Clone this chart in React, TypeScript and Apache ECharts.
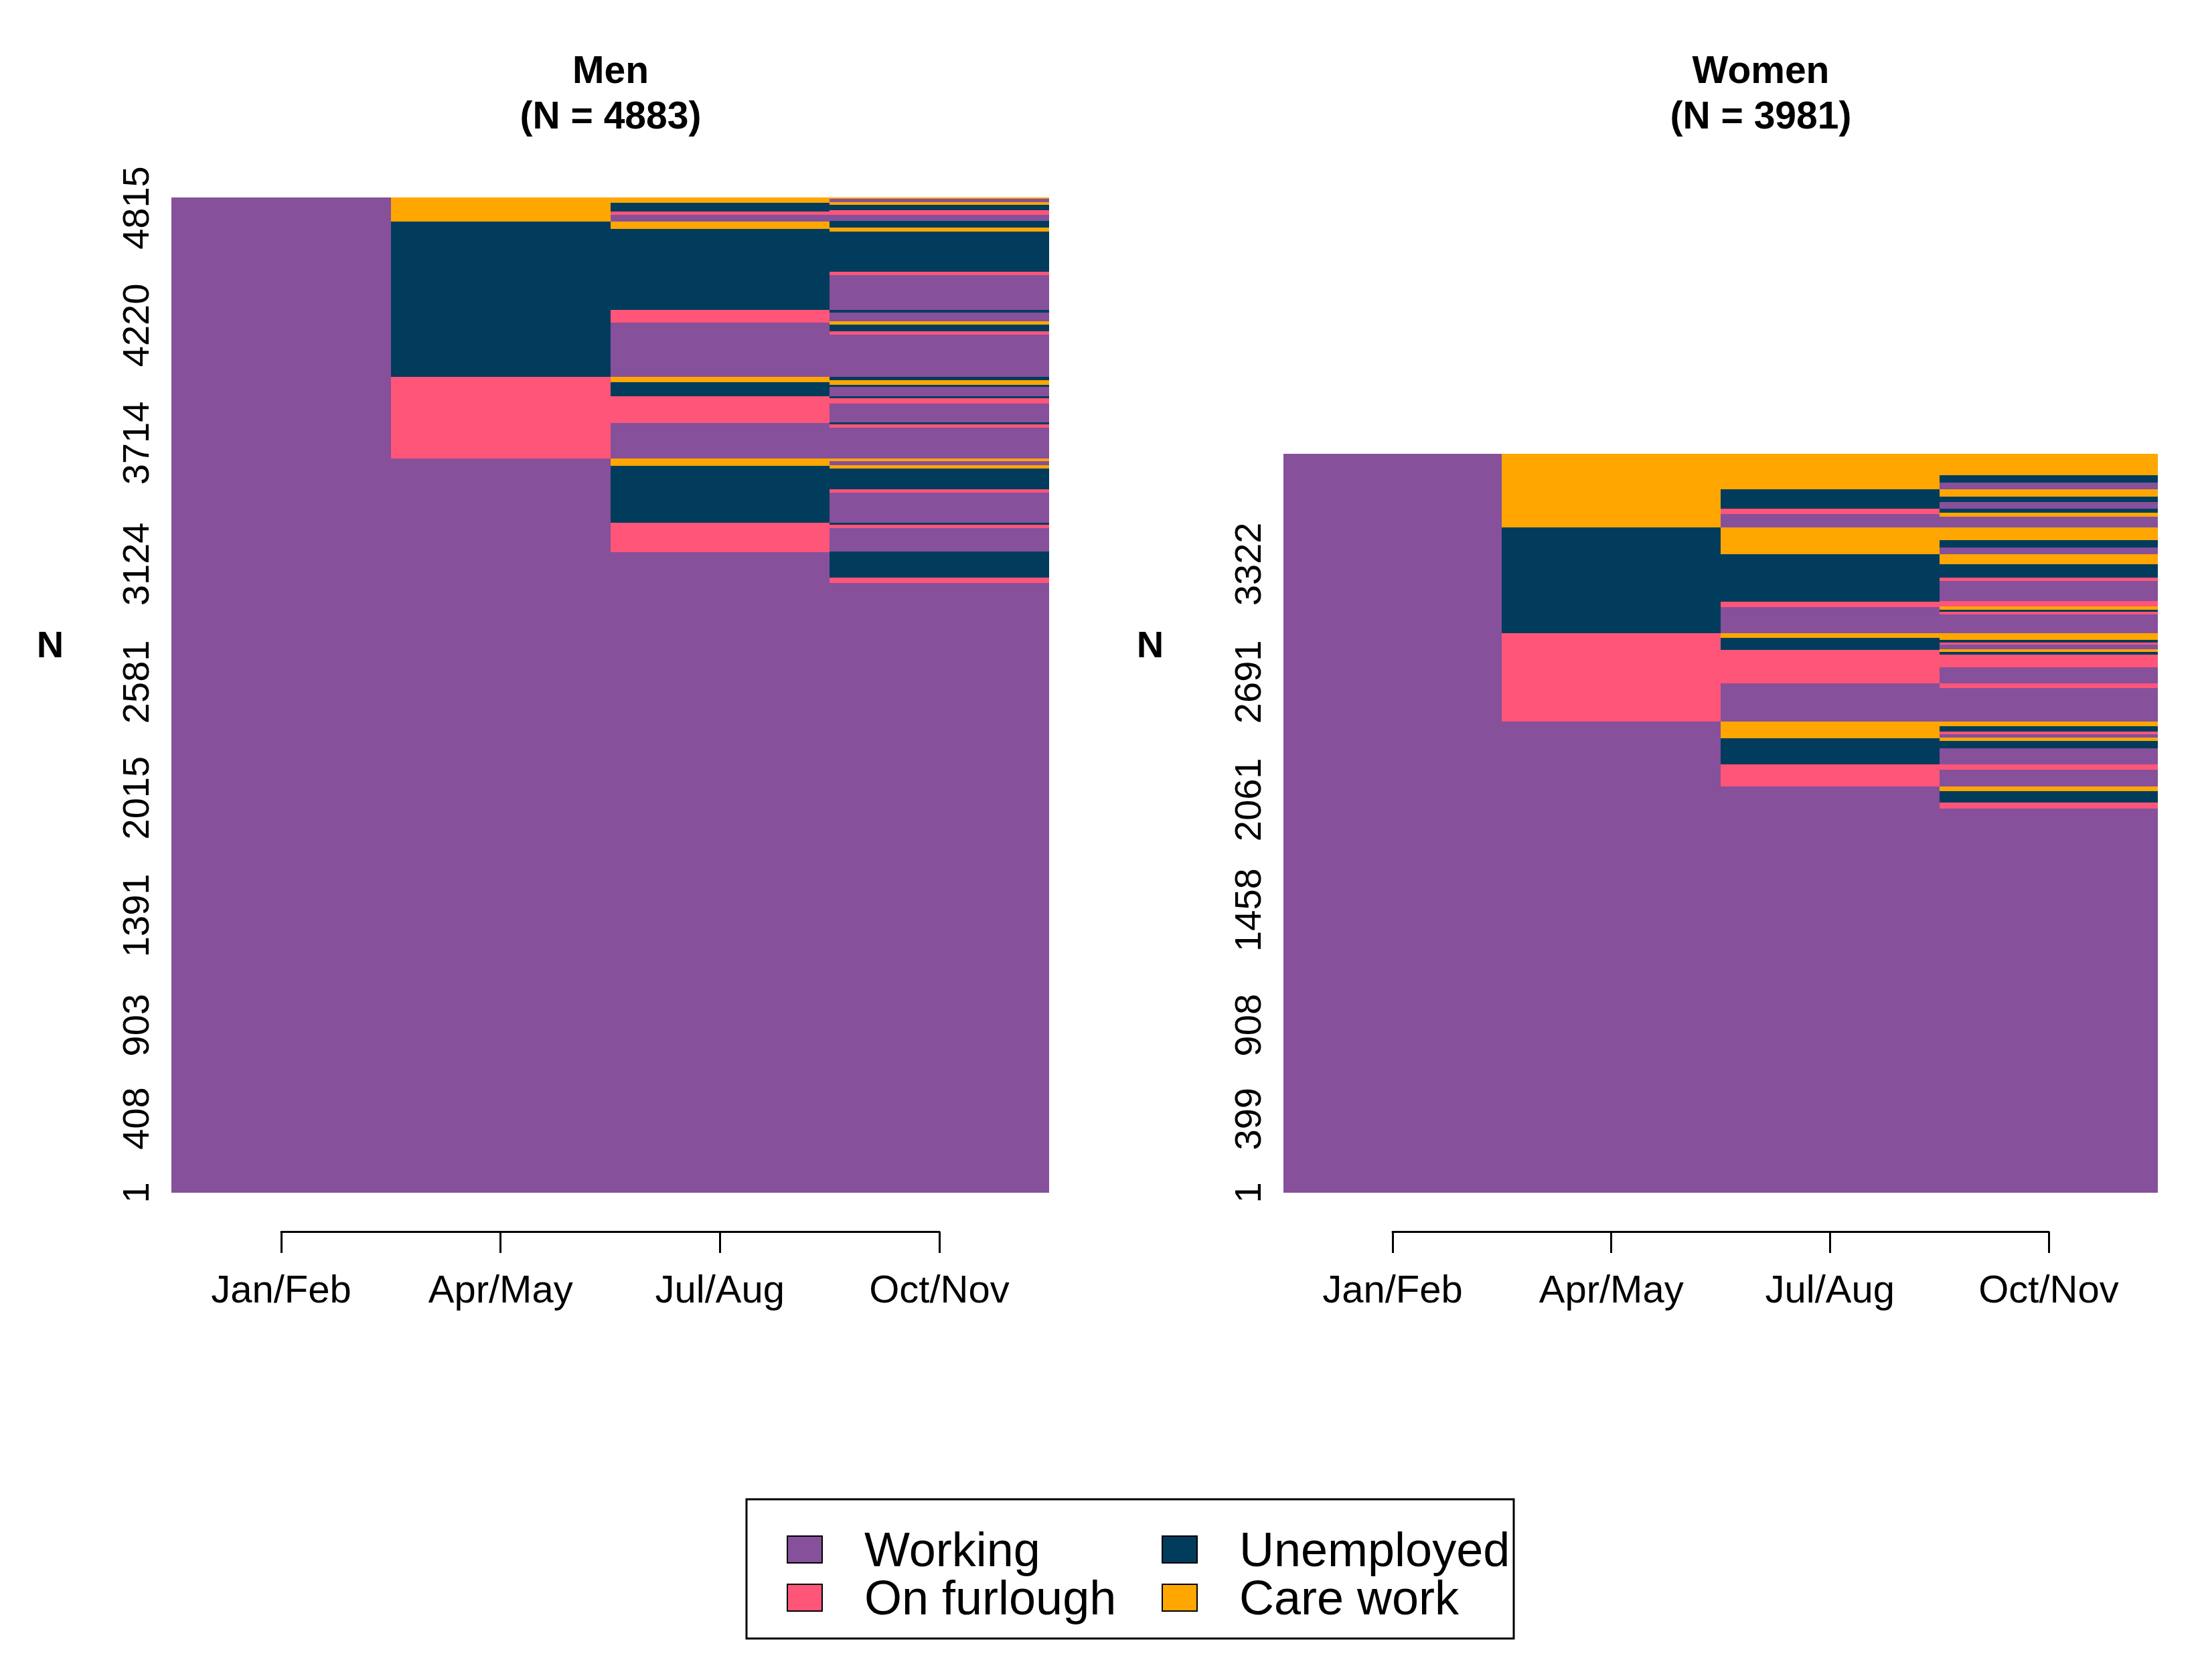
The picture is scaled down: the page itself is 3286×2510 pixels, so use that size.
import React, { useEffect, useRef } from "react";
import * as echarts from "echarts";

const FONT = "'Liberation Sans', Arial, Helvetica, sans-serif";

const CATEGORIES = ["Jan/Feb", "Apr/May", "Jul/Aug", "Oct/Nov"];
const STATE_NAMES: Record<string, string> = {
  W: "Working",
  F: "On furlough",
  U: "Unemployed",
  C: "Care work",
};
const STATE_ORDER = ["W", "F", "U", "C"];
const STATE_COLORS: Record<string, string> = {
  W: "#86509A",
  F: "#FF5579",
  U: "#013C5C",
  C: "#FFA600",
};

// Each segment: [state, upper bound of the stacked (weighted) sequence range]; listed bottom -> top
type Seg = [string, number];

const MEN_TOTAL = 4883;
const WOMEN_TOTAL = 3624;

const MEN_JAN_FEB: Seg[] = [["W", 4883]];
const MEN_APR_MAY: Seg[] = [["W", 3602], ["F", 4004], ["U", 4766], ["C", 4883]];
const MEN_JUL_AUG: Seg[] = [
  ["W", 3143], ["F", 3287], ["U", 3566], ["C", 3602],
  ["W", 3777], ["F", 3909], ["U", 3978], ["C", 4004],
  ["W", 4268], ["F", 4332], ["U", 4728], ["C", 4766],
  ["W", 4799], ["F", 4814], ["U", 4858], ["C", 4883],
];
const MEN_OCT_NOV: Seg[] = [
  ["W", 2992], ["F", 3017], ["U", 3145], ["W", 3260], ["F", 3276], ["U", 3287],
  ["W", 3435], ["F", 3452], ["U", 3553], ["C", 3570], ["W", 3589], ["C", 3602],
  ["W", 3752], ["F", 3769], ["U", 3781], ["W", 3871], ["F", 3898], ["U", 3909],
  ["W", 3953], ["U", 3964], ["C", 3986], ["U", 4004], ["W", 4210], ["F", 4226],
  ["U", 4259], ["C", 4276], ["W", 4317], ["U", 4332], ["W", 4503], ["F", 4519],
  ["U", 4716], ["C", 4735], ["U", 4768], ["W", 4799], ["F", 4820], ["U", 4847],
  ["C", 4861], ["W", 4876], ["C", 4883],
];

const WOMEN_JAN_FEB: Seg[] = [["W", 3624]];
const WOMEN_APR_MAY: Seg[] = [["W", 2311], ["F", 2745], ["U", 3263], ["C", 3624]];
const WOMEN_JUL_AUG: Seg[] = [
  ["W", 1993], ["F", 2101], ["U", 2229], ["C", 2311],
  ["W", 2499], ["F", 2664], ["U", 2721], ["C", 2745],
  ["W", 2874], ["F", 2899], ["U", 3134], ["C", 3263],
  ["W", 3331], ["F", 3356], ["U", 3451], ["C", 3624],
];
const WOMEN_OCT_NOV: Seg[] = [
  ["W", 1886], ["F", 1913], ["U", 1969], ["C", 1993], ["W", 2075], ["F", 2101],
  ["W", 2181], ["U", 2216], ["C", 2232], ["W", 2250], ["F", 2264], ["U", 2289],
  ["C", 2311], ["W", 2475], ["F", 2499], ["W", 2579], ["F", 2639], ["U", 2653],
  ["C", 2666], ["W", 2690], ["F", 2699], ["U", 2712], ["C", 2745], ["W", 2836],
  ["F", 2850], ["U", 2861], ["C", 2877], ["F", 2902], ["W", 3000], ["F", 3017],
  ["U", 3084], ["C", 3134], ["W", 3167], ["U", 3203], ["C", 3263], ["W", 3318],
  ["C", 3336], ["U", 3356], ["W", 3389], ["U", 3414], ["C", 3451], ["W", 3484],
  ["U", 3520], ["C", 3624],
];

// y-axis tick positions (weighted scale) and their sequence-index labels
const MEN_TICK_POS = [0, 364, 822, 1360, 1937, 2506, 3084, 3678, 4256, 4832];
const MEN_TICK_LABELS = ["1", "408", "903", "1391", "2015", "2581", "3124", "3714", "4220", "4815"];
const WOMEN_TICK_POS = [0, 362, 822, 1387, 1928, 2506, 3084];
const WOMEN_TICK_LABELS = ["1", "399", "908", "1458", "2061", "2691", "3322"];

const PANELS = [
  { title: "Men\n(N = 4883)", columns: [MEN_JAN_FEB, MEN_APR_MAY, MEN_JUL_AUG, MEN_OCT_NOV], ticks: MEN_TICK_POS, labels: MEN_TICK_LABELS, total: MEN_TOTAL },
  { title: "Women\n(N = 3981)", columns: [WOMEN_JAN_FEB, WOMEN_APR_MAY, WOMEN_JUL_AUG, WOMEN_OCT_NOV], ticks: WOMEN_TICK_POS, labels: WOMEN_TICK_LABELS, total: WOMEN_TOTAL },
];

// layout (pixels)
const GRIDS = [
  { left: 420, width: 983, top: 295, height: 1487, yOffset: 164, titleX: 912, nX: 75 },
  { left: 2080, width: 980, top: 295, height: 1487, yOffset: 163, titleX: 2630, nX: 1718 },
];

function buildOption() {
  const series: any[] = [];
  PANELS.forEach((panel, g) => {
    STATE_ORDER.forEach((st) => {
      const data: number[][] = [];
      panel.columns.forEach((segs, ci) => {
        let lo = 0;
        segs.forEach(([s, hi]) => {
          if (s === st) data.push([ci, lo, hi]);
          lo = hi;
        });
      });
      series.push({
        type: "custom",
        name: STATE_NAMES[st],
        xAxisIndex: g,
        yAxisIndex: g,
        clip: false,
        itemStyle: { color: STATE_COLORS[st] },
        encode: { x: 0, y: [1, 2] },
        data,
        renderItem: (params: any, api: any) => {
          const col = api.value(0);
          const lo = api.value(1);
          const hi = api.value(2);
          const p0 = api.coord([col - 0.5, hi]);
          const p1 = api.coord([col + 0.5, lo]);
          const x0 = Math.round(p0[0]);
          const x1 = Math.round(p1[0]);
          const y0 = Math.round(p0[1]);
          const y1 = Math.round(p1[1]);
          return {
            type: "rect",
            shape: { x: x0, y: y0, width: x1 - x0, height: Math.max(1, y1 - y0) },
            style: { fill: STATE_COLORS[st] },
          };
        },
      });
    });
  });

  const grid = GRIDS.map((gr) => ({ left: gr.left, width: gr.width, top: gr.top, height: gr.height, containLabel: false }));

  const xAxis = GRIDS.map((gr, g) => ({
    type: "value",
    gridIndex: g,
    min: 0,
    max: 3,
    interval: 1,
    position: "bottom",
    offset: 58,
    axisLine: { show: true, onZero: false, lineStyle: { color: "#000", width: 3 } },
    axisTick: { show: true, length: 32, lineStyle: { color: "#000", width: 3 } },
    splitLine: { show: false },
    axisLabel: {
      margin: 56,
      fontSize: 58,
      lineHeight: 58,
      color: "#000",
      fontFamily: FONT,
      formatter: (v: number) => CATEGORIES[Math.round(v)] ?? "",
    },
  }));

  const yAxis = PANELS.map((panel, g) => ({
    type: "value",
    gridIndex: g,
    min: 0,
    max: MEN_TOTAL,
    position: "left",
    offset: GRIDS[g].yOffset,
    axisLine: { show: false, onZero: false },
    axisTick: { show: false },
    splitLine: { show: false },
    axisLabel: {
      show: true,
      rotate: 90,
      margin: 26,
      fontSize: 56,
      lineHeight: 56,
      color: "#000",
      fontFamily: FONT,
      customValues: panel.ticks,
      showMinLabel: true,
      showMaxLabel: true,
      formatter: (v: number) => {
        const i = panel.ticks.indexOf(v);
        return i >= 0 ? panel.labels[i] : "";
      },
    },
  }));

  const title: any[] = [];
  PANELS.forEach((panel, g) => {
    title.push({
      text: panel.title,
      left: GRIDS[g].titleX,
      top: 70,
      textAlign: "center",
      padding: 0,
      textStyle: { fontSize: 57, fontWeight: "bold", lineHeight: 68, color: "#000", fontFamily: FONT },
    });
    title.push({
      text: "N",
      left: GRIDS[g].nX,
      top: 934,
      textAlign: "center",
      padding: 0,
      textStyle: { fontSize: 56, fontWeight: "bold", lineHeight: 56, color: "#000", fontFamily: FONT },
    });
  });

  const legendCommon = {
    orient: "vertical",
    top: 2279,
    padding: 0,
    itemGap: 0,
    itemWidth: 52,
    itemHeight: 40,
    icon: "rect",
    selectedMode: false,
    itemStyle: { borderColor: "#000", borderWidth: 2 },
    textStyle: { fontSize: 72, lineHeight: 70, color: "#000", fontFamily: FONT, padding: [0, 0, 0, 58] },
  };

  const legend = [
    { ...legendCommon, left: 1175, data: ["Working", "On furlough"] },
    { ...legendCommon, left: 1735, data: ["Unemployed", "Care work"] },
  ];

  return {
    animation: false,
    backgroundColor: "#ffffff",
    title,
    grid,
    xAxis,
    yAxis,
    legend,
    series,
    graphic: [
      {
        type: "rect",
        shape: { x: 1115, y: 2240, width: 1146, height: 208 },
        style: { fill: "none", stroke: "#000", lineWidth: 3 },
        silent: true,
      },
    ],
  };
}

export default function App() {
  const ref = useRef<HTMLDivElement>(null);
  useEffect(() => {
    if (!ref.current) return;
    const chart = echarts.init(ref.current, undefined, { renderer: "svg" });
    chart.setOption(buildOption() as any);
    return () => chart.dispose();
  }, []);
  return (
    <div
      ref={ref}
      style={{ position: "absolute", left: 0, top: 0, width: 3286, height: 2510, background: "#fff" }}
    />
  );
}
